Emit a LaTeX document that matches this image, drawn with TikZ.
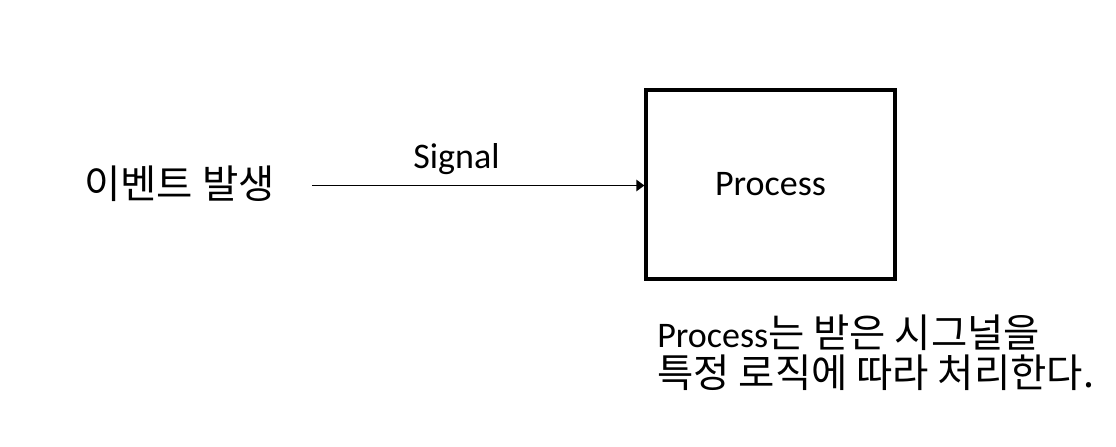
\documentclass[tikz,border=0pt]{standalone}
\usepackage{fontspec}
\setmainfont{Carlito}
\newfontfamily\kr{Noto Sans CJK KR}
\newcommand\krs{\kr\fontsize{29.6pt}{30pt}\selectfont}
\usetikzlibrary{arrows.meta}
\begin{document}
\begin{tikzpicture}[x=0.75pt,y=-0.75pt,
  txt/.style={font=\fontsize{27pt}{30pt}\selectfont, inner sep=0pt},
  procbox/.style={draw, line width=2.4pt, minimum width=249*0.75pt, minimum height=189*0.75pt, inner sep=0pt, font=\fontsize{27pt}{30pt}\selectfont},
  conn/.style={line width=1.1pt, -{Triangle[length=6pt,width=8.5pt]}}]
\useasboundingbox (0,0) rectangle (1116,446);
\node[txt] (ev) at (179.5,184) {\krs 이벤트 발생};
\node[procbox] (proc) at (770.5,184.5) {Process};
\coordinate (s) at (312,185.5);
\draw[conn] (s) -- (s -| proc.west);
\node[txt, anchor=base] (sig) at (456.5,168) {Signal};
\node[txt, anchor=base west, align=left] (note) at (657,387) {Process{\krs 는 받은 시그널을}\\{\krs 특정 로직에 따라 처리한다.}};
\end{tikzpicture}
\end{document}
